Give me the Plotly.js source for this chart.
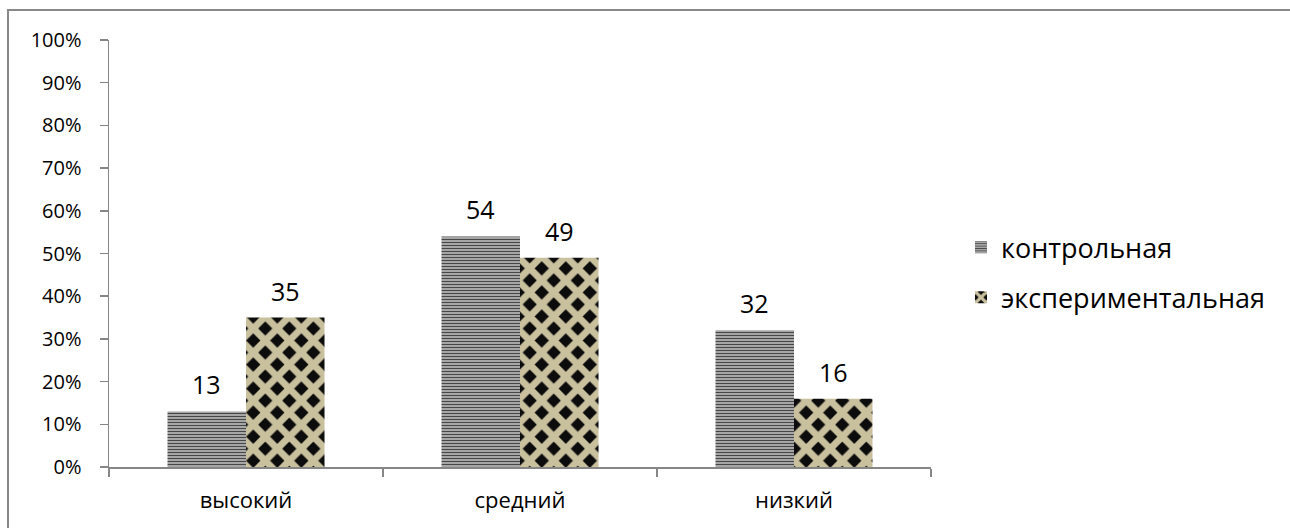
<!DOCTYPE html>
<html>
<head>
<meta charset="utf-8">
<script src="https://cdn.plot.ly/plotly-3.0.1.min.js"></script>
<style>
  html, body { margin: 0; padding: 0; background: #ffffff; }
  #chart { width: 1290px; height: 528px; }
</style>
</head>
<body>
<div id="chart"></div>
<script>
// Уровни и доли учащихся (в %) по группам
const levels = ['высокий', 'средний', 'низкий'];
const controlGroup = [13, 54, 32];
const experimentalGroup = [35, 49, 16];
const seriesNames = ['контрольная', 'экспериментальная'];
const yTicks = [0, 10, 20, 30, 40, 50, 60, 70, 80, 90, 100];

const FONT = '"Open Sans", "Noto Sans", sans-serif';
const margin = { l: 109, r: 359, t: 40, b: 61 };
const bargap = 0.427;
const plotWidth = 1290 - margin.l - margin.r;
const barPx = plotWidth / levels.length * (1 - bargap) / 2;

const traces = [
  {
    type: 'bar',
    name: seriesNames[0],
    x: levels,
    y: controlGroup,
    legendgroup: 'a',
    marker: {
      color: '#b0b0b0',
      line: { width: 0 },
      pattern: { shape: '-', fgcolor: '#474747', bgcolor: '#b0b0b0', size: 3, solidity: 0.4, fillmode: 'replace' }
    },
    hoverinfo: 'skip'
  },
  {
    type: 'bar',
    name: seriesNames[1],
    x: levels,
    y: experimentalGroup,
    legendgroup: 'b',
    marker: {
      // тёмные ромбы на бежевом фоне: бежевая косая сетка поверх чёрного
      color: '#0c0c0c',
      line: { width: 0 },
      pattern: { shape: 'x', fgcolor: '#c9c09e', bgcolor: '#0c0c0c', size: 17, solidity: 0.65, fillmode: 'replace' }
    },
    hoverinfo: 'skip'
  }
];

// Подписи значений над столбцами
const annotations = [];
[controlGroup, experimentalGroup].forEach((vals, s) => {
  vals.forEach((v, i) => {
    annotations.push({
      xref: 'x', yref: 'y',
      x: levels[i], y: v,
      xshift: (s === 0 ? -1 : 1) * barPx / 2,
      yshift: 27,
      yanchor: 'middle',
      text: String(v),
      showarrow: false,
      font: { family: FONT, size: 25, color: '#000000' }
    });
  });
});

const layout = {
  width: 1290,
  height: 528,
  margin: margin,
  paper_bgcolor: '#ffffff',
  plot_bgcolor: '#ffffff',
  barmode: 'group',
  bargap: bargap,
  bargroupgap: 0,
  showlegend: true,
  legend: {
    x: (961 - margin.l) / plotWidth,
    xanchor: 'left',
    y: 0.455,
    yanchor: 'middle',
    traceorder: 'grouped',
    tracegroupgap: 12,
    font: { family: FONT, size: 27, color: '#000000' },
    bgcolor: 'rgba(0,0,0,0)'
  },
  xaxis: {
    type: 'category',
    showline: true,
    linecolor: '#868686',
    linewidth: 1.5,
    ticks: 'outside',
    tickson: 'boundaries',
    ticklen: 8,
    tickcolor: '#868686',
    tickwidth: 1.5,
    ticklabelstandoff: 13,
    tickfont: { family: FONT, size: 22, color: '#000000' },
    showgrid: false,
    zeroline: false,
    fixedrange: true
  },
  yaxis: {
    range: [0, 100],
    tickvals: yTicks,
    ticktext: yTicks.map(t => t + '%'),
    showline: true,
    linecolor: '#868686',
    linewidth: 1.5,
    ticks: 'outside',
    ticklen: 8,
    tickcolor: '#868686',
    tickwidth: 1.5,
    ticklabelstandoff: 14,
    tickfont: { family: FONT, size: 20, color: '#000000' },
    showgrid: false,
    zeroline: false,
    fixedrange: true
  },
  annotations: annotations,
  shapes: [
    {
      // рамка области диаграммы
      type: 'rect',
      xref: 'paper', yref: 'paper',
      x0: (8 - margin.l) / plotWidth,
      x1: 2.5,
      y0: -0.5,
      y1: (467 - 10) / 427,
      line: { color: '#888888', width: 2 },
      fillcolor: 'rgba(0,0,0,0)',
      layer: 'below'
    }
  ]
};

Plotly.newPlot('chart', traces, layout, { staticPlot: true, displayModeBar: false });
</script>
</body>
</html>
